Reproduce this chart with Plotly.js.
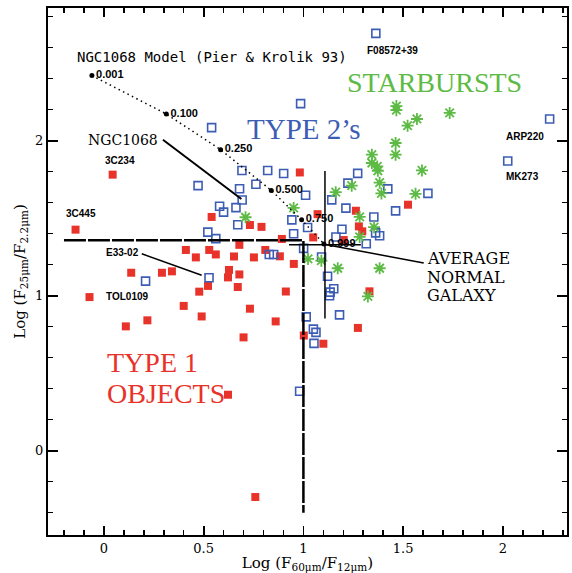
<!DOCTYPE html>
<html>
<head>
<meta charset="utf-8">
<script src="https://cdn.plot.ly/plotly-3.0.1.min.js"></script>
<style>html,body{margin:0;padding:0;background:#fff;}#plot{width:572px;height:573px;}</style>
</head>
<body>
<div id="plot"></div>
<script>
// Type 1 objects (red filled squares): log(F60/F12), log(F25/F2.2)
const type1X = [0.044,-0.142,-0.072,0.137,0.291,0.341,0.110,0.218,0.400,0.478,0.490,0.522,0.411,0.461,0.528,0.561,0.540,0.627,0.622,0.652,0.679,0.679,0.671,0.732,0.790,0.752,0.809,0.732,0.700,0.861,0.882,0.892,0.952,0.912,0.622,0.759,0.982,1.071,1.263,1.524,1.278,1.295,1.049,1.202,1.331,1.273,1.002,1.100];
const type1Y = [1.781,1.426,0.991,1.148,1.148,1.157,0.802,0.841,0.934,1.026,0.866,1.063,1.295,1.247,1.295,1.266,1.508,1.166,1.118,1.253,1.328,1.137,1.056,1.456,1.444,1.247,1.295,0.916,0.731,0.834,1.254,1.366,1.205,1.027,0.361,-0.299,1.795,1.526,1.548,1.587,1.447,1.415,1.376,1.359,1.028,0.792,0.743,0.690];

// Type 2 objects (blue open squares)
const type2X = [1.363,0.986,2.234,2.024,0.540,0.472,0.692,0.821,0.901,0.762,0.680,0.693,0.580,0.600,0.662,0.671,0.942,0.521,0.561,0.527,0.209,0.829,0.851,0.951,1.021,1.011,1.001,1.223,1.272,1.142,1.213,1.353,1.423,1.462,1.624,1.193,1.163,1.315,1.362,1.382,1.091,1.121,1.152,1.134,1.131,1.181,1.014,1.050,1.063,1.053,0.981];
const type2Y = [2.692,2.239,2.140,1.869,2.084,1.710,1.808,1.808,1.788,1.719,1.690,1.617,1.577,1.539,1.568,1.458,1.489,1.410,1.368,1.116,1.094,1.266,1.266,1.400,1.440,1.648,1.305,1.726,1.789,1.618,1.565,1.508,1.689,1.547,1.660,1.429,1.379,1.335,1.405,1.387,1.250,1.125,1.045,1.023,1.000,0.876,0.863,0.784,0.763,0.692,0.383];

// Starbursts (green asterisks)
const starX = [1.466,1.466,1.733,1.569,1.522,1.462,1.462,1.343,1.343,1.370,1.373,1.594,1.382,1.242,1.162,1.391,1.562,0.951,1.282,1.354,1.282,0.710,1.023,1.090,1.172,1.382,1.323];
const starY = [2.223,2.197,2.179,2.140,2.097,1.985,1.910,1.910,1.856,1.834,1.806,1.808,1.729,1.710,1.668,1.660,1.657,1.566,1.508,1.442,1.379,1.506,1.237,1.226,1.177,1.177,0.995];

// NGC1068 model (Pier & Krolik 93)
const modelX = [-0.060,0.313,0.585,0.839,0.991,1.103];
const modelY = [2.420,2.172,1.942,1.679,1.490,1.334];
const modelLabels = ['0.001','0.100','0.250','0.500','0.750','0.999'];

// Average normal galaxy with its spread
const avgX = [1.108];
const avgY = [1.329];
const avgErrX = [0.180];
const avgErrY = [0.476];

// Dividing lines
const divX = [-0.20,1.00,1.00];
const divY = [1.357,1.357,-0.40];

// Pointer lines
const ngcPtrX = [0.296,0.689];
const ngcPtrY = [2.006,1.624];
const e33PtrX = [0.190,0.490];
const e33PtrY = [1.270,1.132];
const avgPtrX = [1.110,1.603];
const avgPtrY = [1.330,1.211];

const RED = '#e8332a', BLUE = '#3d5db4', GREEN = '#5dbb45';

const traces = [
  {x:type1X, y:type1Y, type:'scatter', mode:'markers', name:'Type 1',
   marker:{symbol:'square', size:8, color:RED, line:{width:0}}},
  {x:type2X, y:type2Y, type:'scatter', mode:'markers', name:'Type 2',
   marker:{symbol:'square-open', size:8, color:BLUE, line:{width:1.6, color:BLUE}}},
  {x:starX, y:starY, type:'scatter', mode:'markers', name:'Starbursts',
   marker:{symbol:'asterisk-open', size:10, color:GREEN, line:{width:1.8, color:GREEN}}},
  {x:divX, y:divY, type:'scatter', mode:'lines', name:'divider',
   line:{color:'black', width:2.5, dash:'22px,2px'}},
  {x:avgX, y:avgY, type:'scatter', mode:'markers', name:'Average normal galaxy',
   marker:{size:1, color:'rgba(0,0,0,0)'},
   error_x:{type:'data', array:avgErrX, visible:true, color:'black', thickness:1.5, width:0},
   error_y:{type:'data', array:avgErrY, visible:true, color:'black', thickness:1.5, width:0}},
  {x:ngcPtrX, y:ngcPtrY, type:'scatter', mode:'lines', line:{color:'black', width:2}},
  {x:e33PtrX, y:e33PtrY, type:'scatter', mode:'lines', line:{color:'black', width:1.5}},
  {x:avgPtrX, y:avgPtrY, type:'scatter', mode:'lines', line:{color:'black', width:1.5}},
  {x:modelX, y:modelY, type:'scatter', mode:'lines+markers+text', name:'NGC1068 model',
   line:{color:'black', width:1.5, dash:'1.5px,3.5px'},
   marker:{size:5, color:'black'},
   text:modelLabels, textposition:'middle right',
   textfont:{family:'Liberation Sans', size:11, color:'black', weight:'bold'}}
];

const serif = 'DejaVu Serif';
const times = 'Liberation Serif';
const lab = {family:'Liberation Sans', size:10, color:'black', weight:'bold'};
function ann(text, x, y, font){
  return {text:text, x:x, y:y, xref:'x', yref:'y', showarrow:false, xanchor:'left', yanchor:'middle', font:font};
}
const annotations = [
  ann('NGC1068 Model (Pier &amp; Krolik 93)', -0.147, 2.542, {family:'DejaVu Sans Mono', size:14, color:'black'}),
  ann('NGC1068', -0.088, 2.006, {family:serif, size:14, color:'black'}),
  ann('TYPE 2’s', 0.705, 2.075, {family:times, size:29, color:BLUE}),
  ann('STARBURSTS', 1.207, 2.373, {family:times, size:28, color:GREEN}),
  ann('TYPE 1', 0.004, 0.568, {family:times, size:28, color:RED}),
  ann('OBJECTS', 0.004, 0.368, {family:times, size:28, color:RED}),
  ann('AVERAGE', 1.607, 1.240, {family:serif, size:16, color:'black'}),
  ann('NORMAL', 1.607, 1.119, {family:serif, size:16, color:'black'}),
  ann('GALAXY', 1.607, 1.000, {family:serif, size:16, color:'black'}),
  ann('3C234', -0.002, 1.873, lab),
  ann('3C445', -0.202, 1.529, lab),
  ann('TOL0109', 0.000, 0.992, lab),
  ann('E33-02', 0.000, 1.277, lab),
  ann('F08572+39', 1.307, 2.581, lab),
  ann('ARP220', 2.004, 2.028, lab),
  ann('MK273', 2.004, 1.770, lab)
];

const layout = {
  width:572, height:573,
  margin:{l:48, r:5, t:8, b:38},
  paper_bgcolor:'white', plot_bgcolor:'white',
  showlegend:false,
  font:{family:serif, color:'black'},
  xaxis:{
    range:[-0.28,2.321], dtick:0.5, tick0:0,
    showgrid:false, zeroline:false,
    showline:true, linecolor:'black', linewidth:2, mirror:'ticks',
    ticks:'inside', ticklen:9, tickwidth:1.8, tickcolor:'black',
    minor:{dtick:0.1, tick0:0, ticks:'inside', ticklen:5, tickwidth:1.6, tickcolor:'black', showgrid:false},
    tickfont:{family:serif, size:13, color:'black'},
    title:{text:'Log (F<sub>60μm</sub>/F<sub>12μm</sub>)', font:{family:serif, size:15, color:'black'}, standoff:8}
  },
  yaxis:{
    range:[-0.544,2.856], dtick:1, tick0:0,
    showgrid:false, zeroline:false,
    showline:true, linecolor:'black', linewidth:2, mirror:'ticks',
    ticks:'inside', ticklen:10, tickwidth:1.8, tickcolor:'black',
    minor:{dtick:0.2, tick0:0, ticks:'inside', ticklen:5, tickwidth:1.6, tickcolor:'black', showgrid:false},
    tickfont:{family:serif, size:13, color:'black'},
    title:{text:'Log (F<sub>25μm</sub>/F<sub>2.2μm</sub>)', font:{family:serif, size:15, color:'black'}, standoff:6}
  },
  annotations:annotations
};

Plotly.newPlot('plot', traces, layout, {displayModeBar:false, staticPlot:true});
</script>
</body>
</html>
